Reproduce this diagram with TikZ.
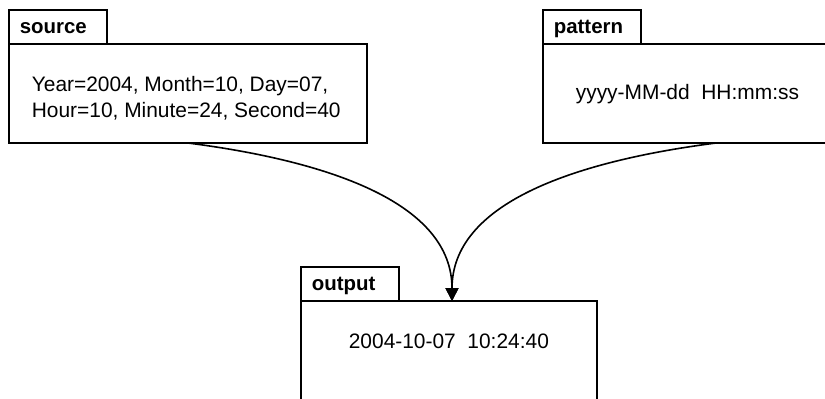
\documentclass[tikz,border=0pt]{standalone}
\usepackage{fontspec}
\setmainfont{Liberation Sans}
\usetikzlibrary{arrows.meta}
\begin{document}
\begin{tikzpicture}[x=1bp,y=-1bp,line width=1.7bp,
  tabbox/.style={draw, anchor=north west, minimum width=98bp, minimum height=34bp,
    inner sep=0pt, outer sep=0pt},
  tablabel/.style={anchor=base west, inner sep=0pt, font=\bfseries\fontsize{20.5}{24}\selectfont},
  bodybox/.style={draw, anchor=north west, inner sep=0pt, outer sep=0pt},
  bodytext/.style={inner sep=0pt, font=\fontsize{21}{25.5}\selectfont},
  flow/.style={line width=1.6bp, -{Triangle[width=13bp,length=13bp]}}]
\useasboundingbox (0,0) rectangle (825,398);
\clip (0,0) rectangle (825,398);
% source
\node[tabbox] (srctab) at (9,10) {};
\node[tablabel] (srclabel) at (19,33) {source};
\node[bodybox, minimum width=358bp, minimum height=99bp] (src) at (9,44) {};
\node[bodytext, anchor=base west, align=left] (srctext) at (31,117)
  {Year=2004, Month=10, Day=07,\\Hour=10, Minute=24, Second=40};
% pattern
\node[tabbox] (pattab) at (543,10) {};
\node[tablabel] (patlabel) at (553,33) {pattern};
\node[bodybox, minimum width=300bp, minimum height=99bp] (pat) at (543,44) {};
\node[bodytext, anchor=base west] (pattext) at (575,99) {yyyy-MM-dd\ \ HH:mm:ss};
% output
\node[tabbox] (outtab) at (301,267) {};
\node[tablabel] (outlabel) at (311,290) {output};
\node[bodybox, minimum width=296bp, minimum height=120bp] (out) at (301,301) {};
\node[bodytext, anchor=base west] (outtext) at (348,348) {2004-10-07\ \ 10:24:40};
% connectors
\coordinate (srcexit) at (188,143);
\coordinate (patexit) at (716,143);
\coordinate (outentry) at (452,301);
\draw[flow] (srcexit) .. controls (335,162) and (452,205) .. (outentry);
\draw[flow] (patexit) .. controls (569,162) and (452,205) .. (outentry);
\end{tikzpicture}
\end{document}
